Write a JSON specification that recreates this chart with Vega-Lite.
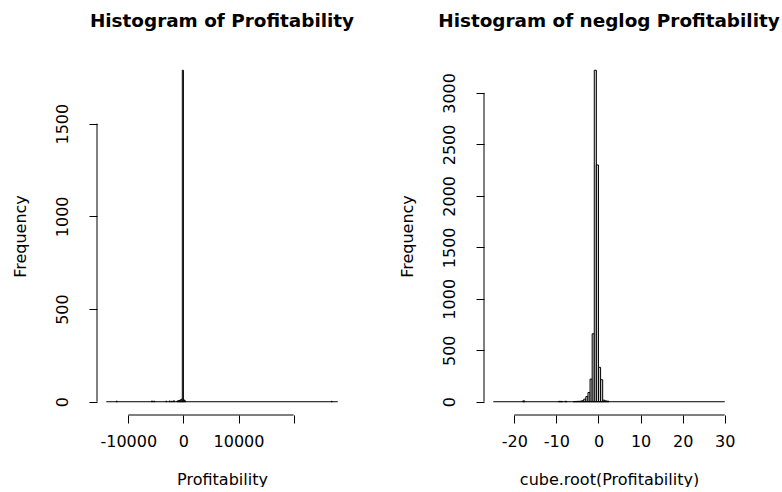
{
  "$schema": "https://vega.github.io/schema/vega-lite/v6.json",
  "background": "white",
  "padding": {"left": 12, "top": 11, "right": 0, "bottom": 0},
  "autosize": {"type": "pad"},
  "bounds": "flush",
  "spacing": 137,
  "config": {
    "font": "DejaVu Sans",
    "view": {"stroke": null},
    "axis": {
      "grid": false, "domain": false, "tickColor": "#000", "tickSize": 8, "tickWidth": 1,
      "labelFont": "DejaVu Sans", "labelFontSize": 16, "labelColor": "#000",
      "titleFont": "DejaVu Sans", "titleFontSize": 16, "titleFontWeight": "normal", "titleColor": "#000"
    },
    "axisX": {"labelPadding": 10, "titlePadding": 22, "labelFlush": false, "labelOverlap": false},
    "axisY": {"labelAngle": -90, "labelAlign": "center", "labelBaseline": "alphabetic", "labelPadding": 22, "titlePadding": 26, "labelOverlap": false},
    "title": {"font": "DejaVu Sans", "fontSize": 18.4, "fontWeight": "bold", "color": "#000", "anchor": "middle", "frame": "group", "baseline": "alphabetic", "offset": 27}
  },
  "datasets": {
    "left": [
      {"bin_start": -12200, "bin_end": -12000, "count": 3},
      {"bin_start": -5800, "bin_end": -5600, "count": 4},
      {"bin_start": -5400, "bin_end": -5200, "count": 3},
      {"bin_start": -3200, "bin_end": -3000, "count": 3},
      {"bin_start": -2600, "bin_end": -2400, "count": 4},
      {"bin_start": -2200, "bin_end": -2000, "count": 3},
      {"bin_start": -1800, "bin_end": -1600, "count": 5},
      {"bin_start": -1200, "bin_end": -1000, "count": 4},
      {"bin_start": -1000, "bin_end": -800, "count": 5},
      {"bin_start": -800, "bin_end": -600, "count": 7},
      {"bin_start": -600, "bin_end": -400, "count": 10},
      {"bin_start": -400, "bin_end": -200, "count": 14},
      {"bin_start": -200, "bin_end": 0, "count": 1788},
      {"bin_start": 0, "bin_end": 200, "count": 10},
      {"bin_start": 200, "bin_end": 400, "count": 5},
      {"bin_start": 26800, "bin_end": 27000, "count": 2}
    ],
    "right": [
      {"bin_start": -18, "bin_end": -17.5, "count": 8},
      {"bin_start": -9.5, "bin_end": -9, "count": 4},
      {"bin_start": -9, "bin_end": -8.5, "count": 3},
      {"bin_start": -8, "bin_end": -7.5, "count": 4},
      {"bin_start": -6, "bin_end": -5.5, "count": 2},
      {"bin_start": -5.5, "bin_end": -5, "count": 3},
      {"bin_start": -5, "bin_end": -4.5, "count": 4},
      {"bin_start": -4.5, "bin_end": -4, "count": 5},
      {"bin_start": -4, "bin_end": -3.5, "count": 10},
      {"bin_start": -3.5, "bin_end": -3, "count": 25},
      {"bin_start": -3, "bin_end": -2.5, "count": 50},
      {"bin_start": -2.5, "bin_end": -2, "count": 90},
      {"bin_start": -2, "bin_end": -1.5, "count": 220},
      {"bin_start": -1.5, "bin_end": -1, "count": 660},
      {"bin_start": -1, "bin_end": -0.5, "count": 3220},
      {"bin_start": -0.5, "bin_end": 0, "count": 2300},
      {"bin_start": 0, "bin_end": 0.5, "count": 334},
      {"bin_start": 0.5, "bin_end": 1, "count": 214},
      {"bin_start": 1, "bin_end": 1.5, "count": 15},
      {"bin_start": 1.5, "bin_end": 2, "count": 8},
      {"bin_start": 2, "bin_end": 2.5, "count": 5}
    ],
    "one": [{}]
  },
  "hconcat": [
    {
      "width": 250, "height": 358,
      "title": {"text": "Histogram of Profitability"},
      "layer": [
        {
          "data": {"name": "left"},
          "mark": {"type": "rect", "fill": "#d3d3d3", "stroke": "#000", "strokeWidth": 1},
          "encoding": {
            "x": {"field": "bin_start", "type": "quantitative", "scale": {"domain": [-15680, 29680], "nice": false, "zero": false},
                  "title": "Profitability",
                  "axis": {"values": [-10000, 0, 10000, 20000], "labelExpr": "datum.value == 20000 ? '' : '' + datum.value"}},
            "x2": {"field": "bin_end"},
            "y": {"field": "count", "type": "quantitative", "scale": {"domain": [-71.5, 1859.5], "nice": false, "zero": false},
                  "title": "Frequency",
                  "axis": {"values": [0, 500, 1000, 1500], "labelExpr": "'' + datum.value"}},
            "y2": {"datum": 0}
          }
        },
        {
          "data": {"name": "one"},
          "mark": {"type": "rule", "color": "#000", "strokeWidth": 1},
          "encoding": {
            "x": {"datum": -14000, "type": "quantitative", "title": "Profitability"},
            "x2": {"datum": 28000},
            "y": {"datum": 0, "type": "quantitative", "title": "Frequency"}
          }
        },
        {
          "data": {"name": "one"},
          "mark": {"type": "rule", "color": "#000", "strokeWidth": 1},
          "encoding": {
            "x": {"datum": -10000, "type": "quantitative", "title": "Profitability"},
            "x2": {"datum": 20000},
            "y": {"datum": -71.5, "type": "quantitative", "title": "Frequency"}
          }
        },
        {
          "data": {"name": "one"},
          "mark": {"type": "rule", "color": "#000", "strokeWidth": 1},
          "encoding": {
            "x": {"datum": -15680, "type": "quantitative", "title": "Profitability"},
            "y": {"datum": 0, "type": "quantitative", "title": "Frequency"},
            "y2": {"datum": 1500}
          }
        }
      ]
    },
    {
      "width": 250, "height": 358,
      "title": {"text": "Histogram of neglog Profitability"},
      "layer": [
        {
          "data": {"name": "right"},
          "mark": {"type": "rect", "fill": "#d3d3d3", "stroke": "#000", "strokeWidth": 1},
          "encoding": {
            "x": {"field": "bin_start", "type": "quantitative", "scale": {"domain": [-27.2, 32.2], "nice": false, "zero": false},
                  "title": "cube.root(Profitability)",
                  "axis": {"values": [-20, -10, 0, 10, 20, 30], "labelExpr": "'' + datum.value"}},
            "x2": {"field": "bin_end"},
            "y": {"field": "count", "type": "quantitative", "scale": {"domain": [-128.8, 3348.8], "nice": false, "zero": false},
                  "title": "Frequency",
                  "axis": {"values": [0, 500, 1000, 1500, 2000, 2500, 3000], "labelExpr": "'' + datum.value"}},
            "y2": {"datum": 0}
          }
        },
        {
          "data": {"name": "one"},
          "mark": {"type": "rule", "color": "#000", "strokeWidth": 1},
          "encoding": {
            "x": {"datum": -25, "type": "quantitative", "title": "cube.root(Profitability)"},
            "x2": {"datum": 30},
            "y": {"datum": 0, "type": "quantitative", "title": "Frequency"}
          }
        },
        {
          "data": {"name": "one"},
          "mark": {"type": "rule", "color": "#000", "strokeWidth": 1},
          "encoding": {
            "x": {"datum": -20, "type": "quantitative", "title": "cube.root(Profitability)"},
            "x2": {"datum": 30},
            "y": {"datum": -128.8, "type": "quantitative", "title": "Frequency"}
          }
        },
        {
          "data": {"name": "one"},
          "mark": {"type": "rule", "color": "#000", "strokeWidth": 1},
          "encoding": {
            "x": {"datum": -27.2, "type": "quantitative", "title": "cube.root(Profitability)"},
            "y": {"datum": 0, "type": "quantitative", "title": "Frequency"},
            "y2": {"datum": 3000}
          }
        }
      ]
    }
  ]
}
